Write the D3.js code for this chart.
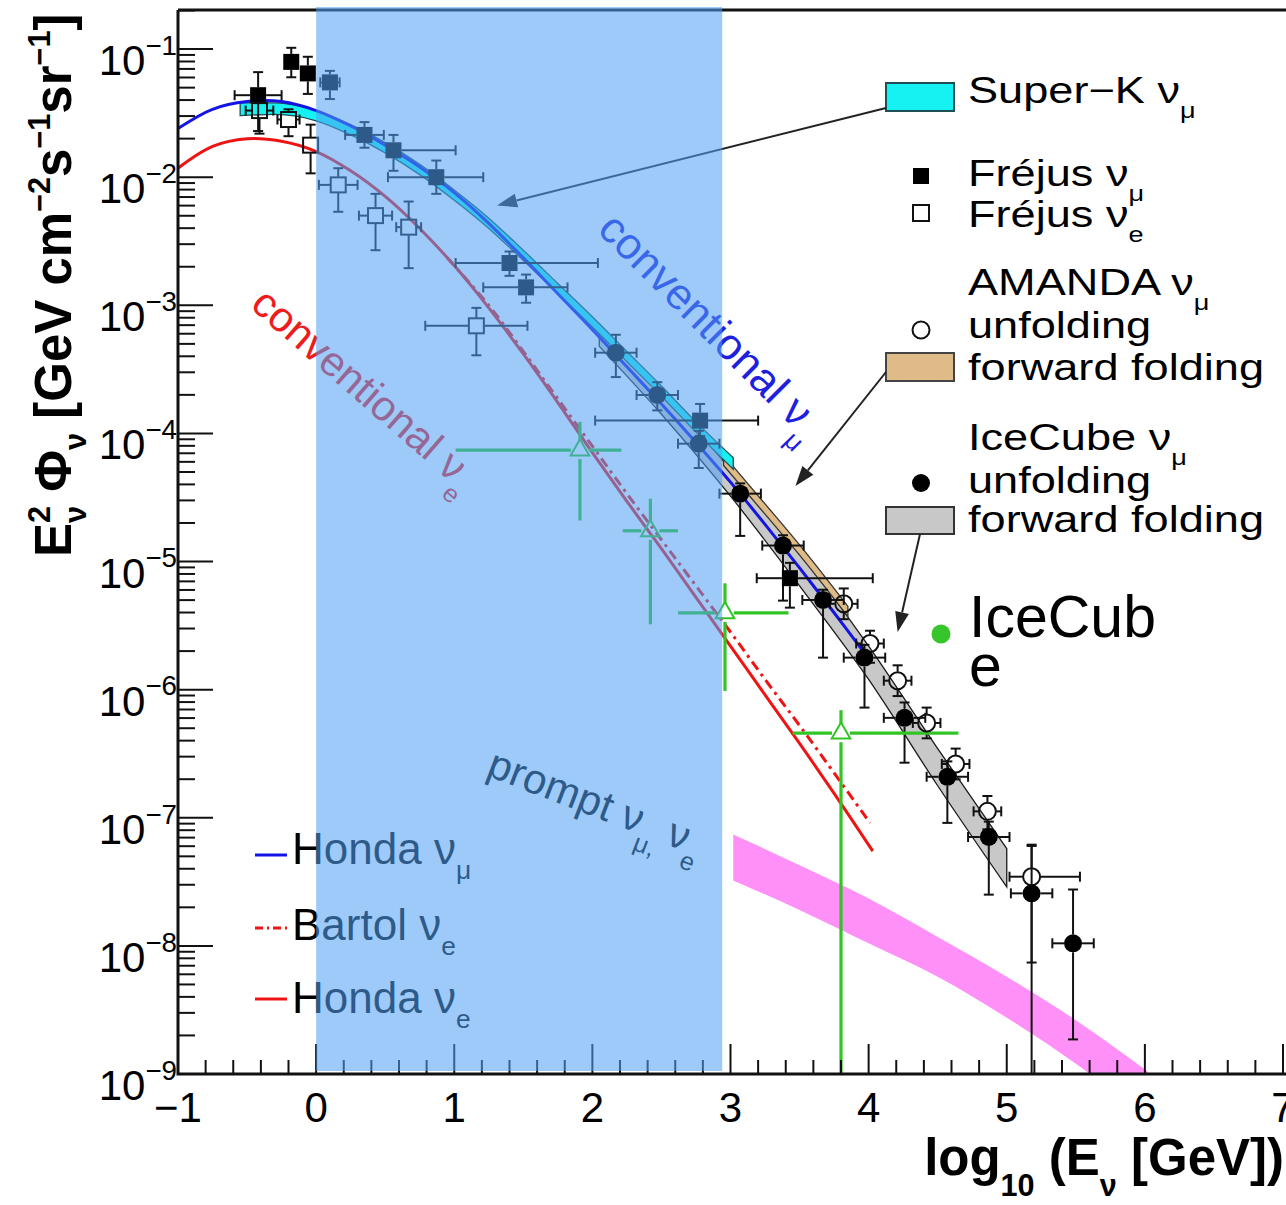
<!DOCTYPE html>
<html>
<head>
<meta charset="utf-8">
<script src="https://cdn.jsdelivr.net/npm/d3@7"></script>
<style>
html, body { margin: 0; padding: 0; background: #fff; }
svg { display: block; font-family: "Liberation Sans", Arial, Helvetica, sans-serif; }
</style>
</head>
<body>
<div id="chart"></div>
<script>
// ---- data (x = log10 E/GeV, values = log10 of E^2 Phi) ----
const honMuX   = [-1, -0.75, -0.5, -0.25, 0, 0.25, 0.5, 0.75, 1, 1.25, 1.5, 1.75, 2, 2.25, 2.5, 2.75, 3, 3.25, 3.5, 3.75, 3.96];
const honMuLog = [-1.62, -1.47, -1.41, -1.41, -1.48, -1.60, -1.75, -1.92, -2.12, -2.36, -2.63, -2.91, -3.19, -3.48, -3.77, -4.07, -4.38, -4.71, -5.05, -5.40, -5.70];

const honEX   = [-1, -0.75, -0.5, -0.25, 0, 0.25, 0.5, 0.75, 1, 1.25, 1.5, 1.75, 2, 2.25, 2.5, 2.75, 3, 3.25, 3.5, 3.75, 4.03];
const honELog = [-1.93, -1.76, -1.70, -1.72, -1.80, -1.95, -2.15, -2.40, -2.69, -3.02, -3.38, -3.76, -4.15, -4.53, -4.90, -5.28, -5.66, -6.04, -6.42, -6.81, -7.26];

const bartX   = [0.95, 1.25, 1.5, 1.75, 2, 2.25, 2.5, 2.75, 3, 3.25, 3.5, 3.75, 4.01];
const bartLog = [-2.63, -3.00, -3.36, -3.73, -4.10, -4.47, -4.83, -5.19, -5.55, -5.92, -6.28, -6.65, -7.04];

const skX  = [-0.55, -0.3, 0, 0.25, 0.5, 0.75, 1, 1.25, 1.5, 1.75, 2, 2.25, 2.5, 2.75, 3.02];
const skHi = [-1.42, -1.42, -1.48, -1.59, -1.73, -1.90, -2.10, -2.32, -2.57, -2.83, -3.09, -3.36, -3.63, -3.91, -4.19];
const skLo = [-1.52, -1.51, -1.56, -1.67, -1.81, -1.98, -2.18, -2.40, -2.65, -2.91, -3.17, -3.44, -3.71, -3.99, -4.28];

const amX  = [2.95, 3.25, 3.5, 3.85];
const amHi = [-4.17, -4.55, -4.87, -5.35];
const amLo = [-4.25, -4.63, -4.95, -5.43];

const icX  = [2.05, 2.5, 3.0, 3.5, 4.0, 4.5, 5.0];
const icHi = [-3.16, -3.67, -4.28, -4.93, -5.66, -6.46, -7.24];
const icLo = [-3.32, -3.85, -4.49, -5.19, -5.92, -6.75, -7.54];

const prX  = [3.02, 3.5, 4.0, 4.5, 5.0, 5.5, 6.02];
const prHi = [-7.13, -7.37, -7.63, -7.93, -8.24, -8.58, -8.98];
const prLo = [-7.49, -7.72, -7.98, -8.24, -8.56, -8.92, -9.35];

// Frejus nu_mu (filled squares)
const frMuX   = [-0.42, -0.18, -0.06, 0.10, 0.35, 0.56, 0.87, 1.40, 1.52, 2.78, 3.43];
const frMuLog = [-1.36, -1.10, -1.19, -1.26, -1.67, -1.79, -2.00, -2.67, -2.86, -3.90, -5.13];
const frMuXlo = [0.17, 0, 0, 0.07, 0.14, 0.05, 0.35, 0.39, 0.31, 0.76, 0.24];
const frMuXhi = [0.17, 0, 0, 0.07, 0.14, 0.45, 0.34, 0.64, 0.30, 0.42, 0.60];
const frMuUp  = [0.18, 0.11, 0.13, 0.09, 0.10, 0.12, 0.13, 0.09, 0.10, 0.13, 0.12];
const frMuDn  = [0.28, 0.12, 0.16, 0.13, 0.10, 0.16, 0.13, 0.10, 0.12, 0.12, 0.23];

// Frejus nu_e (open squares)
const frEX   = [-0.41, -0.20, -0.04, 0.16, 0.43, 0.67, 1.16];
const frELog = [-1.48, -1.55, -1.75, -2.06, -2.30, -2.39, -3.16];
const frEXe  = [0.10, 0.08, 0, 0.14, 0.12, 0.09, 0.37];
const frEUp  = [0.10, 0.08, 0.16, 0.13, 0.17, 0.20, 0.14];
const frEDn  = [0.18, 0.13, 0.22, 0.21, 0.27, 0.32, 0.23];

// IceCube nu_mu unfolding (filled circles)
const icuX   = [2.17, 2.47, 2.77, 3.07, 3.38, 3.67, 3.97, 4.26, 4.57, 4.87, 5.18, 5.48];
const icuLog = [-3.37, -3.70, -4.08, -4.47, -4.875, -5.30, -5.75, -6.22, -6.68, -7.15, -7.59, -7.98];
const icuXe  = [0.15, 0.15, 0.15, 0.15, 0.15, 0.15, 0.15, 0.15, 0.15, 0.15, 0.15, 0.15];
const icuUp  = [0.14, 0.10, 0.10, 0.08, 0.08, 0.08, 0.10, 0.12, 0.12, 0.12, 0.38, 0.42];
const icuDn  = [0.19, 0.12, 0.19, 0.33, 0.43, 0.45, 0.39, 0.35, 0.36, 0.45, 2.00, 0.75];

// AMANDA nu_mu unfolding (open circles)
const amuX   = [3.82, 4.01, 4.21, 4.42, 4.63, 4.86, 5.18];
const amuLog = [-5.33, -5.64, -5.93, -6.26, -6.58, -6.95, -7.46];
const amuXlo = [0.10, 0.10, 0.10, 0.10, 0.10, 0.10, 0.16];
const amuXhi = [0.10, 0.10, 0.10, 0.10, 0.10, 0.10, 0.35];
const amuUp  = [0.12, 0.10, 0.12, 0.12, 0.12, 0.12, 0.24];
const amuDn  = [0.12, 0.15, 0.12, 0.12, 0.12, 0.14, 0.67];

// IceCube nu_e (green crosses, open triangles)
const iceEX   = [1.91, 2.42, 2.96, 3.80];
const iceELog = [-4.13, -4.76, -5.40, -6.34];
const iceEXlo = [0.90, 0.20, 0.34, 0.35];
const iceEXhi = [0.30, 0.20, 0.46, 0.85];
const iceEUp  = [0.22, 0.25, 0.23, 0.18];
const iceEDn  = [0.55, 0.73, 0.61, 3.00];

const xTicks = [-1, 0, 1, 2, 3, 4, 5, 6, 7];
const xTickLabels = ["\u22121", "0", "1", "2", "3", "4", "5", "6", "7"];
const yDecades = [-1, -2, -3, -4, -5, -6, -7, -8, -9];
const overlayX = [0, 2.94];

// ---- layout ----
const W = 1286, H = 1205;
const L = 178, R = 1283, T = 10, B = 1074;

const svg = d3.select("#chart").append("svg").attr("width", W).attr("height", H);

const x = d3.scaleLinear().domain([-1, 7]).range([L, R]);
const y = d3.scaleLog().domain([1e-9, Math.pow(10, -0.695)]).range([B, T]);
const yl = v => y(Math.pow(10, v));

svg.append("defs").append("clipPath").attr("id", "plot")
  .append("rect").attr("x", L).attr("y", T).attr("width", R - L).attr("height", B - T);

const plot = svg.append("g").attr("clip-path", "url(#plot)");

// rich text with sub/superscripts
function rich(parent, px, py, parts, o) {
  o = Object.assign({ size: 40, sx: 1, rot: 0, sub: 0.4, sup: 0.45, small: 0.6,
    fill: "#000", weight: "normal", anchor: "start" }, o);
  const t = parent.append("text")
    .attr("transform", `translate(${px},${py}) scale(${o.sx},1) rotate(${o.rot})`)
    .attr("fill", o.fill).attr("font-weight", o.weight).attr("text-anchor", o.anchor)
    .style("font-size", o.size + "px");
  let cur = 0;
  parts.forEach(p => {
    const [s, k = "n", dx = 0] = Array.isArray(p) ? p : [p];
    const off = k === "sub" ? o.size * o.sub : k === "sup" ? -o.size * o.sup : 0;
    t.append("tspan").attr("dy", off - cur).attr("dx", dx)
      .style("font-size", (k === "n" ? o.size : o.size * o.small) + "px").text(s);
    cur = off;
  });
  return t;
}

// ---- bands ----
function band(xs, hi, lo, fill, stroke) {
  const d = xs.map((v, i) => ({ x: v, hi: hi[i], lo: lo[i] }));
  plot.append("path").datum(d)
    .attr("d", d3.area().curve(d3.curveMonotoneX)
      .x(p => x(p.x)).y0(p => yl(p.lo)).y1(p => yl(p.hi)))
    .attr("fill", fill)
    .attr("stroke", stroke || "none").attr("stroke-width", 1.3);
}
band(prX, prHi, prLo, "#ff90f7", null);
band(icX, icHi, icLo, "#c8c8c8", "#1a1a1a");
band(amX, amHi, amLo, "#dfbb88", "#333");
band(skX, skHi, skLo, "#16f2f2", "#1d4f55");

// ---- model lines ----
function curve(xs, ls, color, dash) {
  plot.append("path").datum(xs.map((v, i) => [v, ls[i]]))
    .attr("d", d3.line().curve(d3.curveCatmullRom.alpha(0.5)).x(p => x(p[0])).y(p => yl(p[1])))
    .attr("fill", "none").attr("stroke", color).attr("stroke-width", 3)
    .attr("stroke-dasharray", dash || null);
}
curve(honEX, honELog, "#ee1414");
curve(bartX, bartLog, "#ee1414", "10,5,3,5");
curve(honMuX, honMuLog, "#1414e4");

// ---- data points with error bars ----
function errs(xs, ls, xlo, xhi, up, dn, o) {
  const g = plot.append("g").attr("stroke", o.color).attr("stroke-width", o.w).attr("fill", "none");
  xs.forEach((v, i) => {
    const cx = x(v), cy = yl(ls[i]), gap = o.gap, c = o.cap;
    const segs = [];
    const xl = x(v - xlo[i]), xr = x(v + xhi[i]);
    const yu = yl(ls[i] + up[i]), yd = yl(ls[i] - dn[i]);
    if (cx - xl > gap) { segs.push([xl, cy, cx - gap, cy]); if (c) segs.push([xl, cy - c, xl, cy + c]); }
    if (xr - cx > gap) { segs.push([cx + gap, cy, xr, cy]); if (c) segs.push([xr, cy - c, xr, cy + c]); }
    if (cy - yu > gap) { segs.push([cx, cy - gap, cx, yu]); if (c) segs.push([cx - c, yu, cx + c, yu]); }
    if (yd - cy > gap) { segs.push([cx, cy + gap, cx, yd]); if (c) segs.push([cx - c, yd, cx + c, yd]); }
    segs.forEach(s => g.append("line").attr("x1", s[0]).attr("y1", s[1]).attr("x2", s[2]).attr("y2", s[3]));
  });
}

errs(frMuX, frMuLog, frMuXlo, frMuXhi, frMuUp, frMuDn, { color: "#111", w: 2, gap: 8, cap: 5 });
errs(frEX, frELog, frEXe, frEXe, frEUp, frEDn, { color: "#111", w: 2, gap: 8, cap: 5 });
errs(amuX, amuLog, amuXlo, amuXhi, amuUp, amuDn, { color: "#111", w: 2, gap: 9, cap: 5 });
errs(icuX, icuLog, icuXe, icuXe, icuUp, icuDn, { color: "#111", w: 2, gap: 9, cap: 5 });
errs(iceEX, iceELog, iceEXlo, iceEXhi, iceEUp, iceEDn, { color: "#30c424", w: 3.2, gap: 9, cap: 0 });

plot.selectAll(".frmu").data(frMuX).join("rect")
  .attr("x", (d) => x(d) - 8).attr("y", (d, i) => yl(frMuLog[i]) - 8)
  .attr("width", 16).attr("height", 16).attr("fill", "#000");
plot.selectAll(".fre").data(frEX).join("rect")
  .attr("x", (d) => x(d) - 7.5).attr("y", (d, i) => yl(frELog[i]) - 7.5)
  .attr("width", 15).attr("height", 15).attr("fill", "none").attr("stroke", "#111").attr("stroke-width", 2);
plot.selectAll(".amu").data(amuX).join("circle")
  .attr("cx", d => x(d)).attr("cy", (d, i) => yl(amuLog[i])).attr("r", 8.5)
  .attr("fill", "none").attr("stroke", "#111").attr("stroke-width", 2);
plot.selectAll(".icu").data(icuX).join("circle")
  .attr("cx", d => x(d)).attr("cy", (d, i) => yl(icuLog[i])).attr("r", 9).attr("fill", "#000");
plot.selectAll(".icee").data(iceEX).join("path")
  .attr("transform", (d, i) => `translate(${x(d)},${yl(iceELog[i])})`)
  .attr("d", d3.symbol(d3.symbolTriangle, 150))
  .attr("fill", "none").attr("stroke", "#30c424").attr("stroke-width", 2);

// ---- axes / frame ----
const ax = svg.append("g").attr("stroke", "#111");
xTicks.forEach(v => ax.append("line").attr("x1", x(v)).attr("x2", x(v)).attr("y1", B).attr("y2", B - 30).attr("stroke-width", 2));
d3.range(-1, 7.001, 0.2).forEach(v => {
  if (Math.abs(v - Math.round(v)) < 1e-6) return;
  ax.append("line").attr("x1", x(v)).attr("x2", x(v)).attr("y1", B).attr("y2", B - 14).attr("stroke-width", 2);
});
yDecades.forEach(e => {
  ax.append("line").attr("x1", L).attr("x2", L + 35).attr("y1", yl(e)).attr("y2", yl(e)).attr("stroke-width", 2);
  for (let m = 2; m <= 9; m++) {
    const yy = y(m * Math.pow(10, e));
    if (yy < T) continue;
    ax.append("line").attr("x1", L).attr("x2", L + 17).attr("y1", yy).attr("y2", yy).attr("stroke-width", 2);
  }
});
ax.append("path").attr("d", `M${L},${T}V${B}H${W}`).attr("fill", "none").attr("stroke-width", 3);
ax.append("line").attr("x1", L).attr("x2", W).attr("y1", T).attr("y2", T).attr("stroke-width", 3);

// tick labels
const lab = svg.append("g");
xTicks.forEach((v, i) => {
  lab.append("text").attr("x", x(v)).attr("y", B + 48).attr("text-anchor", "middle")
    .style("font-size", "42px").attr("fill", "#000").text(xTickLabels[i]);
});
yDecades.forEach(e => {
  rich(lab, 177, yl(e) + 26, ["10", ["\u2212" + Math.abs(e), "sup"]],
    { size: 42, anchor: "end", sup: 0.48, small: 0.66 });
});

// axis titles
rich(lab, 71, 557, [["E"], ["2", "sup"], ["\u03bd", "sub", -17], [" \u03a6"], ["\u03bd", "sub"],
  [" [GeV cm"], ["\u22122", "sup"], ["s"], ["\u22121", "sup"], ["sr"], ["\u22121", "sup"], ["]"]],
  { size: 51, weight: "bold", rot: -90, sub: 0.3, sup: 0.42 });
rich(lab, 1284, 1175, [["log"], ["10", "sub"], [" (E"], ["\u03bd", "sub"], [" [GeV])"]],
  { size: 51, weight: "bold", anchor: "end", sub: 0.42 });

// ---- annotations on the plot ----
rich(svg, 596, 231, ["conventional ", "\u03bd", ["\u03bc", "sub"]], { size: 44, rot: 45, fill: "#1f1fe0" });
rich(svg, 249, 307, ["conventional ", "\u03bd", ["e", "sub"]], { size: 42, rot: 41, fill: "#ee1c1c" });
rich(svg, 485, 775, ["prompt ", "\u03bd", ["\u03bc, ", "sub"], "\u03bd", ["e", "sub"]], { size: 42, rot: 21, fill: "#000" });

// lower-left model legend
const ll = svg.append("g");
const llRows = [
  { y: 855, base: 864, color: "#1414e4", dash: null, parts: ["Honda ", "\u03bd", ["\u03bc", "sub"]] },
  { y: 928, base: 940, color: "#ee1414", dash: "8,4,2,4", parts: ["Bartol ", "\u03bd", ["e", "sub"]] },
  { y: 999, base: 1013, color: "#ee1414", dash: null, parts: ["Honda ", "\u03bd", ["e", "sub"]] }
];
llRows.forEach(r => {
  ll.append("line").attr("x1", 255).attr("x2", 287).attr("y1", r.y).attr("y2", r.y)
    .attr("stroke", r.color).attr("stroke-width", 3).attr("stroke-dasharray", r.dash);
  rich(ll, 292, r.base, r.parts, { size: 44, sub: 0.33 });
});

// upper-right experiment legend (horizontally stretched text)
const lg = svg.append("g");
const SX = 1.22, LX = 968, MX = 921;
const lgRows = [
  { kind: "box", fill: "#16f2f2", stroke: "#1d4f55", by: 83, bh: 28, base: 103, parts: ["Super\u2212K ", "\u03bd", ["\u03bc", "sub"]] },
  { kind: "fsq", cy: 176, base: 186, parts: ["Fr\u00e9jus ", "\u03bd", ["\u03bc", "sub"]] },
  { kind: "osq", cy: 213, base: 227, parts: ["Fr\u00e9jus ", "\u03bd", ["e", "sub"]] },
  { kind: null, base: 295, parts: ["AMANDA ", "\u03bd", ["\u03bc", "sub"]] },
  { kind: "ocirc", cy: 330, base: 338, parts: ["unfolding"] },
  { kind: "box", fill: "#dfbb88", stroke: "#444", by: 353, bh: 28, base: 380, parts: ["forward folding"] },
  { kind: null, base: 450, parts: ["IceCube ", "\u03bd", ["\u03bc", "sub"]] },
  { kind: "fcirc", cy: 483, base: 493, parts: ["unfolding"] },
  { kind: "box", fill: "#c8c8c8", stroke: "#333", by: 507, bh: 27, base: 532, parts: ["forward folding"] }
];
lgRows.forEach(r => {
  if (r.kind === "box") lg.append("rect").attr("x", 886).attr("y", r.by).attr("width", 68).attr("height", r.bh)
    .attr("fill", r.fill).attr("stroke", r.stroke).attr("stroke-width", 2);
  if (r.kind === "fsq") lg.append("rect").attr("x", MX - 8).attr("y", r.cy - 8).attr("width", 16).attr("height", 16).attr("fill", "#000");
  if (r.kind === "osq") lg.append("rect").attr("x", MX - 8).attr("y", r.cy - 8).attr("width", 16).attr("height", 16)
    .attr("fill", "none").attr("stroke", "#111").attr("stroke-width", 2);
  if (r.kind === "ocirc") lg.append("circle").attr("cx", MX).attr("cy", r.cy).attr("r", 8.5)
    .attr("fill", "none").attr("stroke", "#111").attr("stroke-width", 2);
  if (r.kind === "fcirc") lg.append("circle").attr("cx", MX).attr("cy", r.cy).attr("r", 9).attr("fill", "#000");
  rich(lg, LX, r.base, r.parts, { size: 37, sx: SX });
});

// arrows from legend boxes to the bands
function arrow(x1, y1, x2, y2) {
  const a = Math.atan2(y2 - y1, x2 - x1), hl = 20, hw = 7;
  const bx = x2 - hl * Math.cos(a), by = y2 - hl * Math.sin(a);
  lg.append("line").attr("x1", x1).attr("y1", y1).attr("x2", bx).attr("y2", by)
    .attr("stroke", "#222").attr("stroke-width", 2);
  lg.append("path").attr("d", `M${x2},${y2}L${bx + hw * Math.sin(a)},${by - hw * Math.cos(a)}L${bx - hw * Math.sin(a)},${by + hw * Math.cos(a)}Z`)
    .attr("fill", "#222");
}
arrow(886, 108, x(1.31), yl(-2.22));
arrow(886, 372, x(3.47), yl(-4.41));
arrow(920, 534, x(4.21), yl(-5.55));

// ---- translucent highlight over the 1 GeV - 1 TeV range ----
svg.append("rect").attr("x", x(overlayX[0])).attr("y", T - 3)
  .attr("width", x(overlayX[1]) - x(overlayX[0])).attr("height", B - T)
  .attr("fill", "rgb(80,161,242)").attr("fill-opacity", 0.56);

// ---- IceCube nu_e label ----
svg.append("circle").attr("cx", 941).attr("cy", 634).attr("r", 9.5).attr("fill", "#36c52b");
svg.append("text").attr("x", 969).attr("y", 637).style("font-size", "59px").attr("fill", "#000").text("IceCub");
svg.append("text").attr("x", 969).attr("y", 686).style("font-size", "59px").attr("fill", "#000").text("e");
</script>
</body>
</html>
